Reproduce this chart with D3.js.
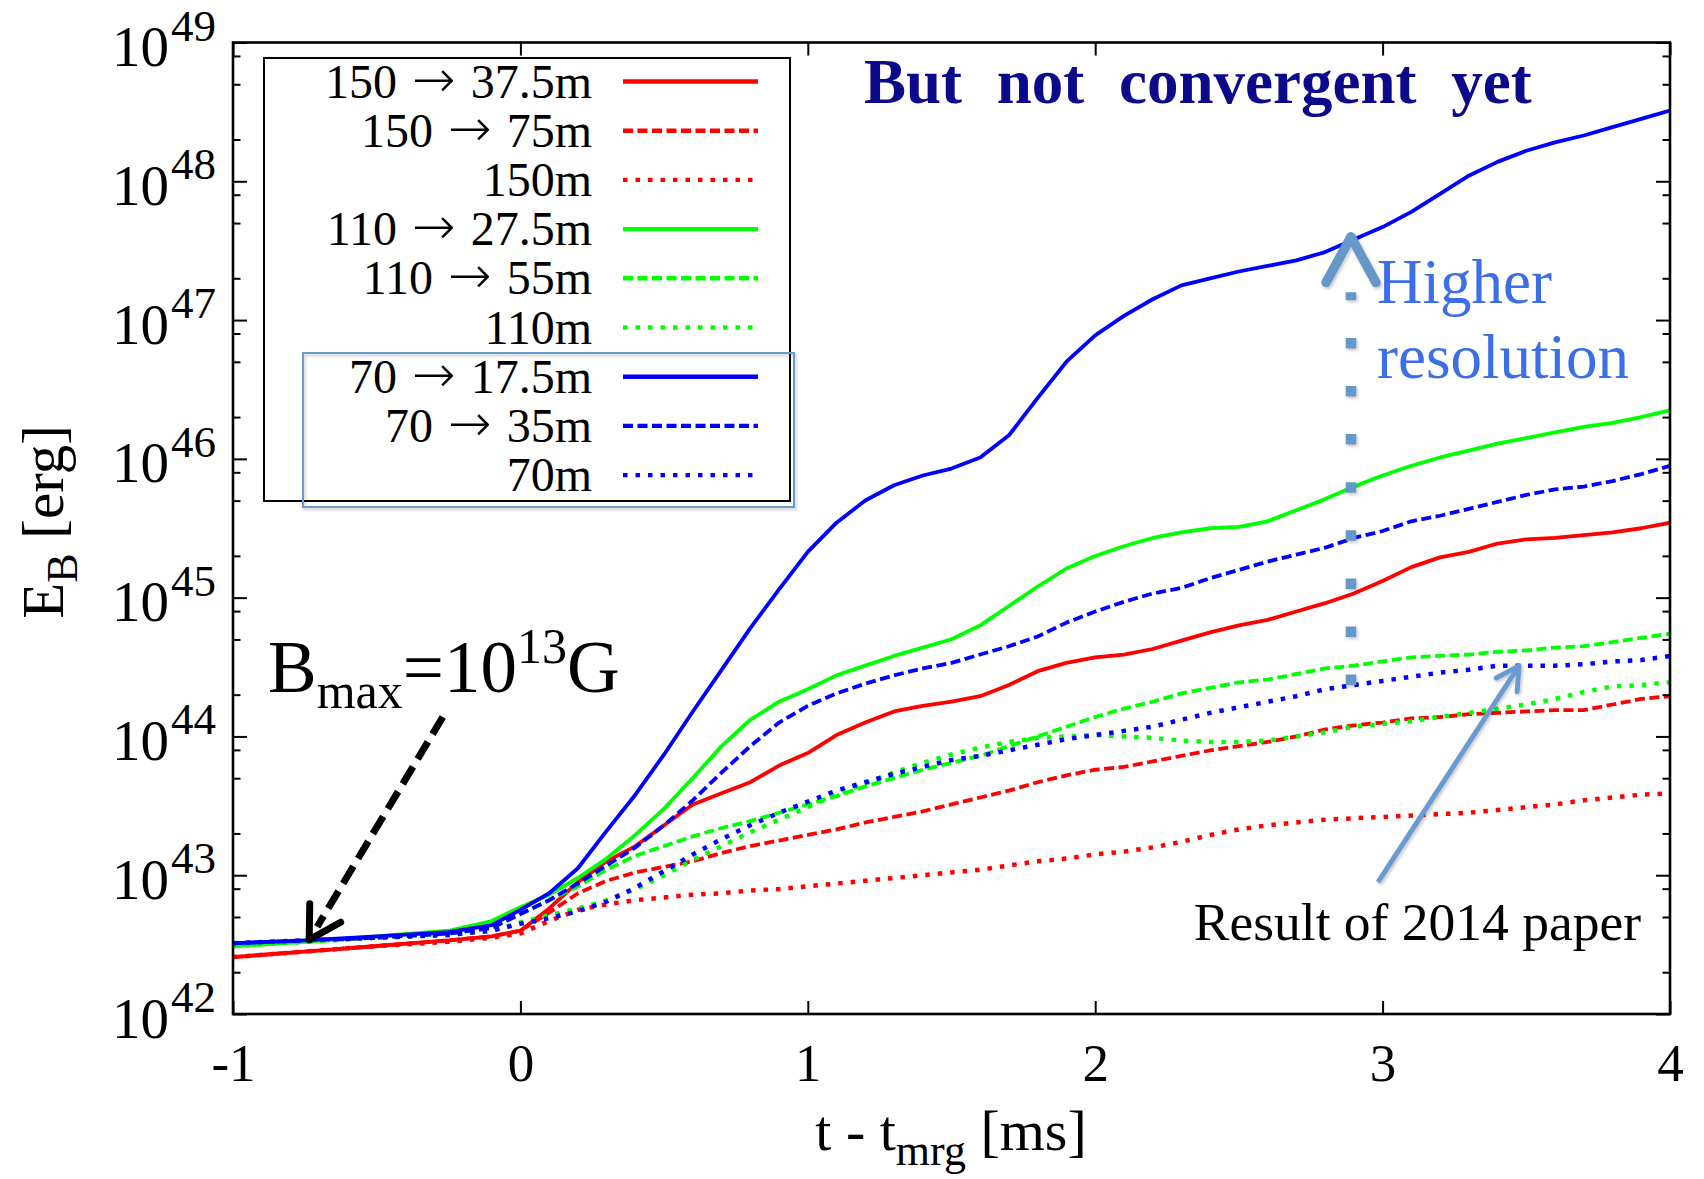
<!DOCTYPE html>
<html>
<head>
<meta charset="utf-8">
<script src="https://cdn.jsdelivr.net/npm/d3@7"></script>
<style>
  body { margin: 0; background: #fff; }
  text { font-family: "Liberation Serif", "Times New Roman", serif; }
</style>
</head>
<body>
<svg id="chart" width="1704" height="1179"></svg>
<script>
// time after merger [ms]
const times = [-1, -0.75, -0.5, -0.25, -0.1, 0,
  0.1, 0.2, 0.3, 0.4, 0.5, 0.6, 0.7, 0.8, 0.9, 1.0,
  1.1, 1.2, 1.3, 1.4, 1.5, 1.6, 1.7, 1.8, 1.9, 2.0,
  2.1, 2.2, 2.3, 2.4, 2.5, 2.6, 2.7, 2.8, 2.9, 3.0,
  3.1, 3.2, 3.3, 3.4, 3.5, 3.6, 3.7, 3.8, 3.9, 4.0];

// log10 of magnetic energy E_B [erg] for each resolution run
const logE_150to37 = [42.41, 42.45, 42.49, 42.53, 42.56, 42.60,
  42.76, 42.95, 43.10, 43.21, 43.36, 43.51, 43.59, 43.67, 43.79, 43.88,
  44.01, 44.10, 44.18, 44.22, 44.25, 44.29, 44.37, 44.47, 44.53, 44.57,
  44.59, 44.63, 44.69, 44.75, 44.80, 44.84, 44.90, 44.96, 45.03, 45.12,
  45.22, 45.29, 45.33, 45.39, 45.42, 45.43, 45.45, 45.47, 45.50, 45.54];
const logE_150to75 = [42.41, 42.45, 42.49, 42.53, 42.56, 42.60,
  42.73, 42.87, 42.96, 43.02, 43.06, 43.10, 43.16, 43.21, 43.25, 43.29,
  43.33, 43.38, 43.42, 43.46, 43.51, 43.56, 43.61, 43.67, 43.72, 43.76,
  43.78, 43.82, 43.86, 43.90, 43.93, 43.96, 44.00, 44.05, 44.08, 44.10,
  44.13, 44.14, 44.16, 44.17, 44.18, 44.19, 44.19, 44.23, 44.27, 44.29];
const logE_150 = [42.41, 42.45, 42.49, 42.52, 42.55, 42.58,
  42.67, 42.75, 42.79, 42.82, 42.84, 42.86, 42.87, 42.89, 42.90, 42.92,
  42.94, 42.96, 42.98, 43.00, 43.02, 43.04, 43.07, 43.10, 43.12, 43.15,
  43.17, 43.20, 43.24, 43.29, 43.33, 43.36, 43.38, 43.40, 43.41, 43.42,
  43.43, 43.44, 43.45, 43.47, 43.49, 43.51, 43.54, 43.56, 43.58, 43.59];
const logE_110to27 = [42.49, 42.52, 42.56, 42.60, 42.67, 42.77,
  42.86, 42.98, 43.12, 43.29, 43.48, 43.70, 43.93, 44.12, 44.25, 44.34,
  44.44, 44.51, 44.58, 44.64, 44.70, 44.80, 44.94, 45.08, 45.21, 45.30,
  45.37, 45.43, 45.47, 45.50, 45.51, 45.55, 45.63, 45.71, 45.80, 45.88,
  45.95, 46.01, 46.06, 46.11, 46.15, 46.19, 46.23, 46.26, 46.30, 46.35];
const logE_110to55 = [42.49, 42.52, 42.55, 42.58, 42.62, 42.72,
  42.82, 42.92, 43.04, 43.14, 43.21, 43.28, 43.34, 43.39, 43.45, 43.51,
  43.57, 43.64, 43.70, 43.76, 43.81, 43.86, 43.93, 44.00, 44.07, 44.14,
  44.20, 44.25, 44.31, 44.35, 44.39, 44.41, 44.45, 44.49, 44.51, 44.54,
  44.57, 44.58, 44.59, 44.61, 44.62, 44.64, 44.65, 44.68, 44.71, 44.74];
const logE_110 = [42.49, 42.52, 42.55, 42.57, 42.60, 42.66,
  42.71, 42.76, 42.82, 42.90, 43.00, 43.11, 43.21, 43.31, 43.40, 43.49,
  43.58, 43.66, 43.74, 43.81, 43.87, 43.92, 43.96, 43.99, 44.00, 44.01,
  44.00, 43.99, 43.97, 43.96, 43.96, 43.97, 44.00, 44.03, 44.07, 44.09,
  44.11, 44.14, 44.17, 44.20, 44.23, 44.27, 44.32, 44.36, 44.37, 44.39];
const logE_70to17 = [42.51, 42.53, 42.56, 42.59, 42.64, 42.75,
  42.87, 43.05, 43.32, 43.58, 43.87, 44.18, 44.48, 44.78, 45.06, 45.33,
  45.54, 45.70, 45.81, 45.88, 45.93, 46.01, 46.17, 46.44, 46.70, 46.89,
  47.03, 47.15, 47.25, 47.30, 47.35, 47.39, 47.43, 47.49, 47.58, 47.67,
  47.78, 47.91, 48.04, 48.14, 48.22, 48.28, 48.33, 48.39, 48.45, 48.51];
const logE_70to35 = [42.51, 42.53, 42.55, 42.58, 42.62, 42.72,
  42.82, 42.94, 43.07, 43.20, 43.36, 43.54, 43.74, 43.93, 44.10, 44.22,
  44.31, 44.38, 44.44, 44.49, 44.53, 44.59, 44.65, 44.72, 44.82, 44.90,
  44.97, 45.03, 45.07, 45.14, 45.20, 45.26, 45.31, 45.36, 45.43, 45.48,
  45.55, 45.59, 45.64, 45.69, 45.74, 45.78, 45.80, 45.84, 45.89, 45.95];
const logE_70 = [42.51, 42.53, 42.55, 42.57, 42.60, 42.65,
  42.69, 42.74, 42.81, 42.91, 43.03, 43.15, 43.26, 43.36, 43.45, 43.53,
  43.61, 43.67, 43.73, 43.78, 43.83, 43.86, 43.90, 43.94, 43.98, 44.01,
  44.04, 44.07, 44.12, 44.17, 44.21, 44.25, 44.29, 44.34, 44.37, 44.40,
  44.43, 44.46, 44.48, 44.51, 44.51, 44.51, 44.52, 44.54, 44.55, 44.58];

// legend entries: initial grid -> finest grid
const labelFrom = ["150", "150", "", "110", "110", "", "70", "70", ""];
const labelTo = ["37.5m", "75m", "150m", "27.5m", "55m", "110m", "17.5m", "35m", "70m"];
const seriesValues = [logE_150to37, logE_150to75, logE_150,
                      logE_110to27, logE_110to55, logE_110,
                      logE_70to17, logE_70to35, logE_70];

const xTicks = [-1, 0, 1, 2, 3, 4];
const yDecades = [42, 43, 44, 45, 46, 47, 48, 49];
const yMinorMantissas = [2, 5, 8];

// ---- styling ----
const colors = ["#ff0000", "#ff0000", "#ff0000", "#00ff00", "#00ff00", "#00ff00", "#0000ff", "#0000ff", "#0000ff"];
const dashes = [null, "10 4.5", "4.5 8", null, "10 4.5", "4.5 8", null, "10 4.5", "4.5 8"];
const widths = [3.8, 3.8, 4.5, 3.8, 3.8, 4.5, 3.8, 3.8, 4.5];

const W = 1704, H = 1179;
const L = 233, R = 1670, T = 42.5, B = 1014;

const svg = d3.select("#chart");
svg.append("rect").attr("width", W).attr("height", H).attr("fill", "#fff");

const defs = svg.append("defs");
defs.append("clipPath").attr("id", "plotClip")
  .append("rect").attr("x", L).attr("y", T).attr("width", R - L).attr("height", B - T);
const shadow = defs.append("filter").attr("id", "softShadow")
  .attr("x", "-20%").attr("y", "-20%").attr("width", "140%").attr("height", "140%");
shadow.append("feDropShadow").attr("dx", 1.5).attr("dy", 2).attr("stdDeviation", 1.6)
  .attr("flood-color", "#000").attr("flood-opacity", 0.22);

const x = d3.scaleLinear().domain([-1, 4]).range([L, R]);
const y = d3.scaleLog().domain([1e42, 1e49]).range([B, T]);

// ---- curves ----
const line = d3.line()
  .x(d => x(d[0]))
  .y(d => y(Math.pow(10, d[1])));

const plot = svg.append("g").attr("clip-path", "url(#plotClip)");
seriesValues.forEach((vals, i) => {
  const pts = times.map((t, k) => [t, vals[k]]);
  plot.append("path")
    .datum(pts)
    .attr("d", line)
    .attr("fill", "none")
    .attr("stroke", colors[i])
    .attr("stroke-width", widths[i])
    .attr("stroke-linejoin", "round")
    .attr("stroke-dasharray", dashes[i]);
});

// ---- axes ----
function styleTicks(g) {
  g.select(".domain").remove();
  g.selectAll(".tick line").attr("stroke", "#000").attr("stroke-width", 2);
}

const majorVals = yDecades.map(e => Math.pow(10, e));
const minorVals = [];
yDecades.slice(0, -1).forEach(e => yMinorMantissas.forEach(m => minorVals.push(m * Math.pow(10, e))));

// bottom
const gx = svg.append("g").attr("transform", `translate(0,${B})`)
  .call(d3.axisBottom(x).tickValues(xTicks).tickSize(-13).tickFormat(d => String(d)))
  .call(styleTicks);
gx.selectAll(".tick text")
  .attr("y", 67).attr("dy", 0)
  .attr("fill", "#000")
  .style("font-size", "53px")
  .style("font-family", "'Liberation Serif', serif");

// top
svg.append("g").attr("transform", `translate(0,${T})`)
  .call(d3.axisTop(x).tickValues(xTicks).tickSize(-13).tickFormat(""))
  .call(styleTicks);

// left majors with 10^n labels
const gyl = svg.append("g").attr("transform", `translate(${L},0)`)
  .call(d3.axisLeft(y).tickValues(majorVals).tickSize(-14).tickFormat(""))
  .call(styleTicks);
gyl.selectAll(".tick text").remove();
gyl.selectAll(".tick").each(function (d) {
  const exp = Math.round(Math.log10(d));
  const t = d3.select(this).append("text")
    .attr("x", -17).attr("y", 23)
    .attr("text-anchor", "end")
    .attr("fill", "#000");
  t.append("tspan").style("font-size", "57px").text("10");
  t.append("tspan").style("font-size", "45px").attr("dx", 2).attr("dy", -25.5).text(exp);
});
svg.append("g").attr("transform", `translate(${L},0)`)
  .call(d3.axisLeft(y).tickValues(minorVals).tickSize(-7.5).tickFormat(""))
  .call(styleTicks);

// right
svg.append("g").attr("transform", `translate(${R},0)`)
  .call(d3.axisRight(y).tickValues(majorVals).tickSize(-14).tickFormat(""))
  .call(styleTicks);
svg.append("g").attr("transform", `translate(${R},0)`)
  .call(d3.axisRight(y).tickValues(minorVals).tickSize(-7.5).tickFormat(""))
  .call(styleTicks);

// frame
svg.append("rect")
  .attr("x", L).attr("y", T).attr("width", R - L).attr("height", B - T)
  .attr("fill", "none").attr("stroke", "#000").attr("stroke-width", 2.6);

// ---- axis titles ----
const xt = svg.append("text")
  .attr("x", 951).attr("y", 1150)
  .attr("text-anchor", "middle").attr("fill", "#000")
  .style("font-size", "58px");
xt.append("tspan").text("t - t");
xt.append("tspan").style("font-size", "44px").attr("dy", 15).text("mrg");
xt.append("tspan").attr("dy", -15).text(" [ms]");

const yt = svg.append("text")
  .attr("transform", "translate(63,522) rotate(-90)")
  .attr("text-anchor", "middle").attr("fill", "#000")
  .style("font-size", "59px");
yt.append("tspan").text("E");
yt.append("tspan").style("font-size", "44px").attr("dy", 14).text("B");
yt.append("tspan").attr("dy", -14).text(" [erg]");

// ---- legend ----
const legend = svg.append("g");
legend.append("rect")
  .attr("x", 264).attr("y", 58).attr("width", 526).attr("height", 443)
  .attr("fill", "none").attr("stroke", "#000").attr("stroke-width", 2);
const textRight = 592;
labelTo.forEach((lab, i) => {
  const cy = 81.5 + 49.2 * i;
  const base = cy + 16;
  const toText = legend.append("text")
    .attr("x", textRight).attr("y", base)
    .attr("text-anchor", "end").attr("fill", "#000")
    .style("font-size", "48px")
    .text(lab);
  if (labelFrom[i]) {
    let edge = textRight - toText.node().getComputedTextLength() - 15;
    const arrow = legend.append("text")
      .attr("x", edge).attr("y", base - 1)
      .attr("text-anchor", "end").attr("fill", "#000")
      .style("font-family", "'DejaVu Sans', sans-serif")
      .style("font-size", "52px").style("font-weight", "200")
      .text("\u2192");
    edge -= arrow.node().getComputedTextLength() + 15;
    legend.append("text")
      .attr("x", edge).attr("y", base)
      .attr("text-anchor", "end").attr("fill", "#000")
      .style("font-size", "48px")
      .text(labelFrom[i]);
  }
  legend.append("line")
    .attr("x1", 623).attr("x2", 758).attr("y1", cy).attr("y2", cy)
    .attr("stroke", colors[i]).attr("stroke-width", 4.4)
    .attr("stroke-dasharray", dashes[i]);
});
// highlight box round the 70m runs
svg.append("rect")
  .attr("x", 303).attr("y", 353).attr("width", 491).attr("height", 154)
  .attr("fill", "none").attr("stroke", "#6a9ad0").attr("stroke-width", 2)
  .attr("filter", "url(#softShadow)");

// ---- annotations ----
function arrowHead(g, x1, y1, x2, y2, len, ang, color, width) {
  const a = Math.atan2(y1 - y2, x1 - x2);
  const p = d3.path();
  p.moveTo(x2 + len * Math.cos(a + ang), y2 + len * Math.sin(a + ang));
  p.lineTo(x2, y2);
  p.lineTo(x2 + len * Math.cos(a - ang), y2 + len * Math.sin(a - ang));
  g.append("path").attr("d", p.toString())
    .attr("fill", "none").attr("stroke", color).attr("stroke-width", width)
    .attr("stroke-linecap", "round").attr("stroke-linejoin", "round");
}

svg.append("text")
  .attr("x", 864).attr("y", 103)
  .attr("fill", "#0a0a8a")
  .style("font-size", "63px").style("font-weight", "bold")
  .style("word-spacing", "19px")
  .text("But not convergent yet");

// B_max label with black dashed arrow
const bl = svg.append("text").attr("x", 268).attr("y", 692).attr("fill", "#000").style("font-size", "73px");
bl.append("tspan").text("B");
bl.append("tspan").style("font-size", "50px").attr("dy", 16).text("max");
bl.append("tspan").attr("dy", -16).text("=10");
bl.append("tspan").style("font-size", "50px").attr("dy", -29).text("13");
bl.append("tspan").attr("dy", 29).text("G");

const bArrow = svg.append("g");
const bx1 = x(-0.27), by1 = y(Math.pow(10, 44.14));
const bx2 = x(-0.735), by2 = y(Math.pow(10, 42.535));
bArrow.append("line")
  .attr("x1", bx1).attr("y1", by1).attr("x2", bx2 + 8).attr("y2", by2 - 13)
  .attr("stroke", "#000").attr("stroke-width", 7).attr("stroke-dasharray", "20 9");
arrowHead(bArrow, bx1, by1, bx2, by2, 36, Math.PI / 6, "#000", 7);

// "Higher resolution" dotted arrow
const hx = x(2.89);
const hg = svg.append("g").attr("filter", "url(#softShadow)");
hg.append("line")
  .attr("x1", hx).attr("x2", hx)
  .attr("y1", y(Math.pow(10, 44.37))).attr("y2", y(Math.pow(10, 47.2)))
  .attr("stroke", "#6598c8").attr("stroke-width", 10.5)
  .attr("stroke-dasharray", "10.5 37.6");
const hTip = y(Math.pow(10, 47.6));
arrowHead(hg, hx, hTip + 60, hx, hTip, 52, 0.5, "#6598c8", 9.5);

const hr = svg.append("text").attr("fill", "#3c6ee8").style("font-size", "63px");
hr.append("tspan").attr("x", 1377).attr("y", 303).text("Higher");
hr.append("tspan").attr("x", 1377).attr("y", 378).text("resolution");

// "Result of 2014 paper" arrow
const rg = svg.append("g").attr("filter", "url(#softShadow)");
const rx1 = x(2.984), ry1 = y(Math.pow(10, 42.95));
const rx2 = x(3.475), ry2 = y(Math.pow(10, 44.51));
rg.append("line").attr("x1", rx1).attr("y1", ry1).attr("x2", rx2).attr("y2", ry2)
  .attr("stroke", "#6a9bd0").attr("stroke-width", 5);
arrowHead(rg, rx1, ry1, rx2, ry2, 26, 0.5, "#6a9bd0", 5);

svg.append("text")
  .attr("x", 1641).attr("y", 940)
  .attr("text-anchor", "end").attr("fill", "#000")
  .style("font-size", "53.5px")
  .text("Result of 2014 paper");
</script>
</body>
</html>
